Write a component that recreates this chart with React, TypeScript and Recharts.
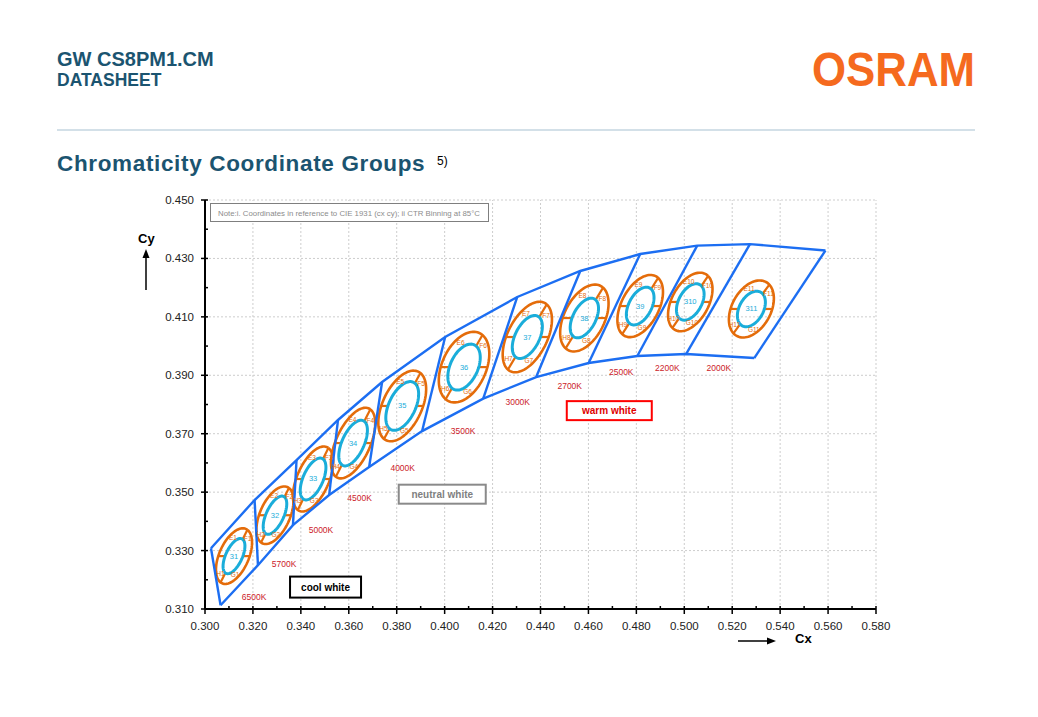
import { ReferenceLine, Scatter, ScatterChart, XAxis, YAxis } from 'recharts'

const BLUE = '#1C6EF2'
const ORANGE = '#E46C0A'
const CYAN = '#1AADDA'
const RED = '#CC2229'
const NAVY = '#1B5470'

const binNames = ['31', '32', '33', '34', '35', '36', '37', '38', '39', '310', '311']
const subIndex = ['1', '2', '3', '4', '5', '6', '7', '8', '9', '10', '11']
const cctNames = ['6500K', '5700K', '5000K', '4500K', '4000K', '3500K', '3000K', '2700K', '2500K', '2200K', '2000K']

// quadrangle corners (cx, cy)
const topX = [0.3025, 0.3207, 0.3382, 0.3555, 0.3739, 0.4002, 0.4303, 0.4566, 0.4816, 0.5054, 0.5274, 0.5589]
const topY = [0.3308, 0.3473, 0.361, 0.3747, 0.3877, 0.4031, 0.4168, 0.4257, 0.4315, 0.4344, 0.4349, 0.4327]
const bottomX = [0.3065, 0.3221, 0.3367, 0.3518, 0.3685, 0.3906, 0.4161, 0.4382, 0.4601, 0.4804, 0.5008, 0.5292]
const bottomY = [0.3113, 0.325, 0.3387, 0.349, 0.3586, 0.3709, 0.382, 0.3894, 0.3942, 0.3966, 0.3973, 0.3959]

// ellipse centres, semi axes and tilt
const centerX = [0.3121, 0.3292, 0.3451, 0.3618, 0.3823, 0.4081, 0.4345, 0.4583, 0.4816, 0.5025, 0.528]
const centerY = [0.3281, 0.3421, 0.3545, 0.3668, 0.3795, 0.3928, 0.4031, 0.4096, 0.4137, 0.4151, 0.4127]
const outerA = [0.0106, 0.011, 0.0124, 0.0136, 0.0136, 0.0134, 0.0138, 0.013, 0.0122, 0.0116, 0.0112]
const outerB = [0.0059, 0.006, 0.0064, 0.0068, 0.0078, 0.0088, 0.0078, 0.008, 0.0074, 0.0072, 0.0076]
const innerA = [0.0068, 0.0074, 0.008, 0.0088, 0.0094, 0.0088, 0.0084, 0.0078, 0.0074, 0.0072, 0.007]
const innerB = [0.0033, 0.0035, 0.004, 0.0044, 0.0053, 0.0055, 0.0048, 0.0045, 0.0045, 0.0045, 0.0047]
const tiltDeg = [58, 58, 59, 58, 56, 55, 54, 53, 52, 50, 48]

// CCT label anchors
const cctX = [0.3205, 0.333, 0.3484, 0.3645, 0.3825, 0.4077, 0.4305, 0.4522, 0.4737, 0.4929, 0.5144]
const cctY = [0.3142, 0.3253, 0.3372, 0.3479, 0.3584, 0.3711, 0.381, 0.3863, 0.3911, 0.3925, 0.3925]

const groupNames = ['cool white', 'neutral white', 'warm white']
const groupX = [0.3503, 0.399, 0.4687]
const groupY = [0.3175, 0.3493, 0.3779]

const xTicks = [0.3, 0.31, 0.32, 0.33, 0.34, 0.35, 0.36, 0.37, 0.38, 0.39, 0.4, 0.41, 0.42, 0.43, 0.44, 0.45, 0.46, 0.47, 0.48, 0.49, 0.5, 0.51, 0.52, 0.53, 0.54, 0.55, 0.56, 0.57, 0.58]
const yTicks = [0.31, 0.32, 0.33, 0.34, 0.35, 0.36, 0.37, 0.38, 0.39, 0.4, 0.41, 0.42, 0.43, 0.44, 0.45]
const xGrid = [0.32, 0.34, 0.36, 0.38, 0.4, 0.42, 0.44, 0.46, 0.48, 0.5, 0.52, 0.54, 0.56, 0.58]
const yGrid = [0.33, 0.35, 0.37, 0.39, 0.41, 0.43, 0.45]

const groupStyle: Record<string, { color: string; text: string; w: number; h: number }> = {
  'cool white': { color: '#000', text: '#000', w: 71, h: 21 },
  'neutral white': { color: '#8A8A8A', text: '#7F7F7F', w: 87, h: 19 },
  'warm white': { color: '#FF0000', text: '#E00000', w: 85, h: 19 },
}

type Pt = { x: number; y: number; label?: string; kind?: string }

const rad = (d: number) => (d * Math.PI) / 180

function pointAt(i: number, a: number, b: number, t: number): Pt {
  const th = rad(tiltDeg[i])
  return {
    x: centerX[i] + a * Math.cos(t) * Math.cos(th) - b * Math.sin(t) * Math.sin(th),
    y: centerY[i] + a * Math.cos(t) * Math.sin(th) + b * Math.sin(t) * Math.cos(th),
  }
}

// parameter where the ellipse is level with its centre (right side)
function flatT(i: number, a: number, b: number) {
  const th = rad(tiltDeg[i])
  return Math.atan2(-a * Math.sin(th), b * Math.cos(th))
}

function outline(i: number, a: number, b: number): Pt[] {
  const pts: Pt[] = []
  for (let k = 0; k <= 96; k++) pts.push(pointAt(i, a, b, (k / 96) * 2 * Math.PI))
  return pts
}

const bins = binNames.map((_, i) => i)

const quadLines: Pt[][] = [
  topX.map((x, i) => ({ x, y: topY[i] })),
  bottomX.map((x, i) => ({ x, y: bottomY[i] })),
  ...topX.map((x, i) => [{ x, y: topY[i] }, { x: bottomX[i], y: bottomY[i] }]),
]

const spokes: Pt[][] = bins.flatMap((i) => {
  const ti = flatT(i, innerA[i], innerB[i])
  const to = flatT(i, outerA[i], outerB[i])
  return [
    [pointAt(i, innerA[i], innerB[i], 0), pointAt(i, outerA[i], outerB[i], 0)],
    [pointAt(i, innerA[i], innerB[i], Math.PI), pointAt(i, outerA[i], outerB[i], Math.PI)],
    [pointAt(i, innerA[i], innerB[i], ti), pointAt(i, outerA[i], outerB[i], to)],
    [pointAt(i, innerA[i], innerB[i], ti + Math.PI), pointAt(i, outerA[i], outerB[i], to + Math.PI)],
  ]
})

// quadrant labels sit in the ring: F/H near the tips, E/G at the sides
const subLabels: Pt[] = bins.flatMap((i) => {
  const am = (outerA[i] + innerA[i]) / 2
  const bm = (outerB[i] + innerB[i]) / 2
  const f = flatT(i, am, bm)
  const where: [string, number][] = [
    ['F', 0.28 * f],
    ['E', (f + Math.PI) / 2],
    ['H', Math.PI + 0.28 * f],
    ['G', Math.PI + (f + Math.PI) / 2],
  ]
  return where.map(([q, t]) => ({ ...pointAt(i, am, bm, t), label: q + subIndex[i], kind: 'sub' }))
})

const binLabelPts: Pt[] = bins.map((i) => ({ x: centerX[i], y: centerY[i], label: binNames[i], kind: 'bin' }))
const cctPts: Pt[] = cctNames.map((label, i) => ({ x: cctX[i], y: cctY[i], label, kind: 'cct' }))
const groupPts: Pt[] = groupNames.map((label, i) => ({ x: groupX[i], y: groupY[i], label }))

const Blank = () => <g />

function TextMark(props: any) {
  const { cx, cy, payload } = props
  const kind = payload.kind
  const fill = kind === 'sub' ? ORANGE : kind === 'bin' ? CYAN : RED
  const size = kind === 'sub' ? 6.5 : kind === 'bin' ? 7.5 : 8.5
  return (
    <text x={cx} y={cy} textAnchor="middle" dominantBaseline="central" fontSize={size} fill={fill} fontFamily="Liberation Sans, Arial, sans-serif">
      {payload.label}
    </text>
  )
}

function GroupBox(props: any) {
  const { cx, cy, payload } = props
  const s = groupStyle[payload.label]
  return (
    <g>
      <rect x={cx - s.w / 2} y={cy - s.h / 2} width={s.w} height={s.h} fill="#fff" stroke={s.color} strokeWidth={2} />
      <text x={cx} y={cy} textAnchor="middle" dominantBaseline="central" fontSize={10} fontWeight="bold" fill={s.text} fontFamily="Liberation Sans, Arial, sans-serif">
        {payload.label}
      </text>
    </g>
  )
}

function XTick(props: any) {
  const { x, y, payload } = props
  const major = Math.round(payload.value * 100) % 2 === 0
  return (
    <g>
      <line x1={x} x2={x} y1={y - 3} y2={major ? y + 5 : y} stroke="#000" strokeWidth={1.5} />
      {major && (
        <text x={x} y={y + 21} textAnchor="middle" fontSize={11.5} fill="#222">
          {payload.value.toFixed(3)}
        </text>
      )}
    </g>
  )
}

function YTick(props: any) {
  const { x, y, payload } = props
  const major = Math.round(payload.value * 100) % 2 === 1
  return (
    <g>
      <line x1={major ? x - 4 : x} x2={x + 3} y1={y} y2={y} stroke="#000" strokeWidth={1.5} />
      {major && (
        <text x={x - 11} y={y + 4} textAnchor="end" fontSize={11.5} fill="#222">
          {payload.value.toFixed(3)}
        </text>
      )}
    </g>
  )
}

export default function App() {
  return (
    <div style={{ position: 'absolute', left: 0, top: 0, width: 1038, height: 717, background: '#fff', fontFamily: 'Liberation Sans, Arial, sans-serif' }}>
      <svg width={1038} height={717} style={{ position: 'absolute', left: 0, top: 0 }}>
        <text x={57} y={66} fontSize={20} fontWeight="bold" fill={NAVY}>GW CS8PM1.CM</text>
        <text x={57} y={85.5} fontSize={17.5} fontWeight="bold" fill={NAVY}>DATASHEET</text>
        <text x={812} y={86} fontSize={47.5} fontWeight="bold" fill="#F56A1E" textLength={163} lengthAdjust="spacingAndGlyphs">OSRAM</text>
        <line x1={57} x2={975} y1={130} y2={130} stroke="#D3E0E8" strokeWidth={2} />
        <text x={57} y={171} fontSize={22.5} fontWeight="bold" fill={NAVY} letterSpacing={0.65}>Chromaticity Coordinate Groups</text>
        <text x={437} y={165} fontSize={12} fill="#000">5)</text>
      </svg>
      <div style={{ position: 'absolute', left: 0, top: 0 }}>
        <ScatterChart width={1038} height={717} margin={{ top: 200, right: 162, bottom: 78, left: 160 }}>
          {xGrid.map((v) => (
            <ReferenceLine key={'gx' + v} x={v} stroke="#CDCDCD" strokeDasharray="2 2" />
          ))}
          {yGrid.map((v) => (
            <ReferenceLine key={'gy' + v} y={v} stroke="#CDCDCD" strokeDasharray="2 2" />
          ))}
          <XAxis type="number" dataKey="x" domain={[0.3, 0.58]} ticks={xTicks} interval={0} tick={XTick} tickLine={false} tickSize={0} tickMargin={0} axisLine={{ stroke: '#000', strokeWidth: 2 }} height={30} allowDataOverflow />
          <YAxis type="number" dataKey="y" domain={[0.31, 0.45]} ticks={yTicks} interval={0} tick={YTick} tickLine={false} tickSize={0} tickMargin={0} axisLine={{ stroke: '#000', strokeWidth: 2 }} width={45} allowDataOverflow />
          {bins.map((i) => (
            <Scatter key={'o' + i} data={outline(i, outerA[i], outerB[i])} line={{ stroke: ORANGE, strokeWidth: 2.6 }} shape={Blank} isAnimationActive={false} />
          ))}
          {spokes.map((pts, k) => (
            <Scatter key={'s' + k} data={pts} line={{ stroke: ORANGE, strokeWidth: 2.2 }} shape={Blank} isAnimationActive={false} />
          ))}
          {bins.map((i) => (
            <Scatter key={'c' + i} data={outline(i, innerA[i], innerB[i])} line={{ stroke: CYAN, strokeWidth: 3 }} shape={Blank} isAnimationActive={false} />
          ))}
          {quadLines.map((pts, k) => (
            <Scatter key={'q' + k} data={pts} line={{ stroke: BLUE, strokeWidth: 2.4 }} shape={Blank} isAnimationActive={false} />
          ))}
          <Scatter data={subLabels} shape={TextMark} isAnimationActive={false} />
          <Scatter data={binLabelPts} shape={TextMark} isAnimationActive={false} />
          <Scatter data={cctPts} shape={TextMark} isAnimationActive={false} />
          <Scatter data={groupPts} shape={GroupBox} isAnimationActive={false} />
        </ScatterChart>
      </div>
      <svg width={1038} height={717} style={{ position: 'absolute', left: 0, top: 0, pointerEvents: 'none' }}>
        <rect x={210.5} y={203.5} width={278} height={18} fill="#fff" stroke="#7F7F7F" strokeWidth={1} />
        <text x={218} y={215.5} fontSize={8} fill="#8C8C8C" textLength={262} lengthAdjust="spacingAndGlyphs">
          Note:i. Coordinates in reference to CIE 1931 (cx cy); ii CTR Binning at 85°C
        </text>
        <text x={138} y={243} fontSize={13} fontWeight="bold" fill="#000">Cy</text>
        <line x1={146} x2={146} y1={290} y2={256} stroke="#000" strokeWidth={1.5} />
        <polygon points="146,249 142.5,258 149.5,258" fill="#000" />
        <text x={795} y={643} fontSize={13} fontWeight="bold" fill="#000">Cx</text>
        <line x1={738} x2={769} y1={641} y2={641} stroke="#000" strokeWidth={1.5} />
        <polygon points="776,641 767,637.5 767,644.5" fill="#000" />
      </svg>
    </div>
  )
}
